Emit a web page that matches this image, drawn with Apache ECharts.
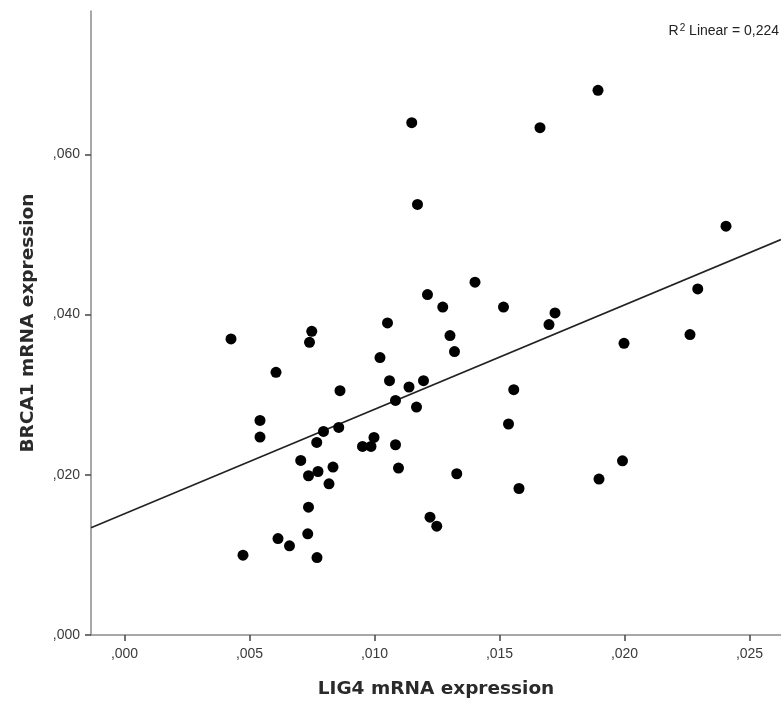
<!DOCTYPE html>
<html>
<head>
<meta charset="utf-8">
<script src="https://cdn.jsdelivr.net/npm/echarts@6/dist/echarts.min.js"></script>
<style>
html,body{margin:0;padding:0;background:#fff;}
#chart{width:781px;height:702px;}
</style>
</head>
<body>
<div id="chart"></div>
<script>
// LIG4 mRNA expression (x)
var lig4 = [0.01149,0.01172,0.01212,0.01052,0.00749,0.00740,0.00426,0.01022,0.01894,0.01662,
            0.02406,0.01402,0.01273,0.01516,0.01722,0.01698,0.02293,0.01302,0.01320,0.01998,
            0.02262,0.00606,0.00862,0.01060,0.01138,0.01196,0.01084,0.01168,0.00542,0.00542,
            0.00796,0.00857,0.00769,0.00998,0.00952,0.00986,0.01084,0.01096,0.00705,0.00736,
            0.00774,0.00834,0.00818,0.00736,0.00733,0.00614,0.00660,0.00474,0.00770,0.01222,
            0.01249,0.01557,0.01536,0.01329,0.01578,0.01898,0.01992];
// BRCA1 mRNA expression (y)
var brca1 = [0.06396,0.05375,0.04250,0.03896,0.03791,0.03654,0.03696,0.03463,0.06800,0.06334,
             0.05104,0.04404,0.04094,0.04094,0.04021,0.03875,0.04321,0.03738,0.03538,0.03641,
             0.03750,0.03279,0.03050,0.03175,0.03096,0.03175,0.02929,0.02846,0.02679,0.02471,
             0.02541,0.02591,0.02404,0.02466,0.02354,0.02354,0.02375,0.02084,0.02179,0.01988,
             0.02041,0.02096,0.01888,0.01596,0.01263,0.01204,0.01113,0.00996,0.00966,0.01471,
             0.01359,0.03063,0.02634,0.02013,0.01829,0.01946,0.02175];
// Fit line
var fitIntercept = 0.01513;
var fitSlope = 1.304;
var r2Text = '0,224';
var xTicks = [0, 0.005, 0.010, 0.015, 0.020, 0.025];
var yTicks = [0, 0.020, 0.040, 0.060];
var xMin = -0.00134, xMax = 0.02626;
var yMin = 0, yMax = 0.0779;

var points = lig4.map(function (x, i) { return [x, brca1[i]]; });
var fitLine = [[xMin, fitIntercept + fitSlope * xMin], [xMax, fitIntercept + fitSlope * xMax]];

function fmt(v) { return ',' + v.toFixed(3).split('.')[1]; }

var axisCommon = {
  axisLine: { show: true, onZero: false, lineStyle: { color: '#8a8a8a', width: 1.5 } },
  axisTick: { show: true, length: 6, lineStyle: { color: '#444', width: 1.5 } },
  splitLine: { show: false },
  nameTextStyle: { fontFamily: 'DejaVu Sans', fontWeight: 'bold', fontSize: 18.5, color: '#2a2a2a' }
};

var chart = echarts.init(document.getElementById('chart'), null, { renderer: 'canvas' });
chart.setOption({
  backgroundColor: '#fff',
  animation: false,
  grid: { left: 91, right: 0, top: 11, bottom: 67, containLabel: false, outerBoundsMode: 'none' },
  xAxis: Object.assign({}, axisCommon, {
    type: 'value', min: xMin, max: xMax,
    name: 'LIG4 mRNA expression', nameLocation: 'middle', nameGap: 45,
    axisTick: Object.assign({}, axisCommon.axisTick, { customValues: xTicks }),
    axisLabel: { customValues: xTicks, formatter: fmt, margin: 12, fontFamily: 'Liberation Sans', fontSize: 14, color: '#3a3a3a' }
  }),
  yAxis: Object.assign({}, axisCommon, {
    type: 'value', min: yMin, max: yMax,
    name: 'BRCA1 mRNA expression', nameLocation: 'middle', nameGap: 53,
    axisTick: Object.assign({}, axisCommon.axisTick, { customValues: yTicks }),
    axisLabel: { customValues: yTicks, formatter: fmt, margin: 11, fontFamily: 'Liberation Sans', fontSize: 14, color: '#3a3a3a' }
  }),
  graphic: [{
    type: 'text', right: 2, top: 23,
    style: {
      text: '{a|R}{s|2}{a| Linear = ' + r2Text + '}',
      rich: {
        a: { fontFamily: 'Liberation Sans', fontSize: 14, fill: '#222', color: '#222' },
        s: { fontFamily: 'Liberation Sans', fontSize: 10, fill: '#222', color: '#222', verticalAlign: 'top', padding: [0, 0, 7, 1] }
      }
    }
  }],
  series: [
    {
      type: 'line', data: fitLine, showSymbol: false, symbol: 'none',
      lineStyle: { color: '#222', width: 1.6 }, z: 2, silent: true
    },
    {
      type: 'scatter', data: points, symbol: 'circle', symbolSize: 11,
      itemStyle: { color: '#000', opacity: 1 }, z: 3
    }
  ]
});
</script>
</body>
</html>
